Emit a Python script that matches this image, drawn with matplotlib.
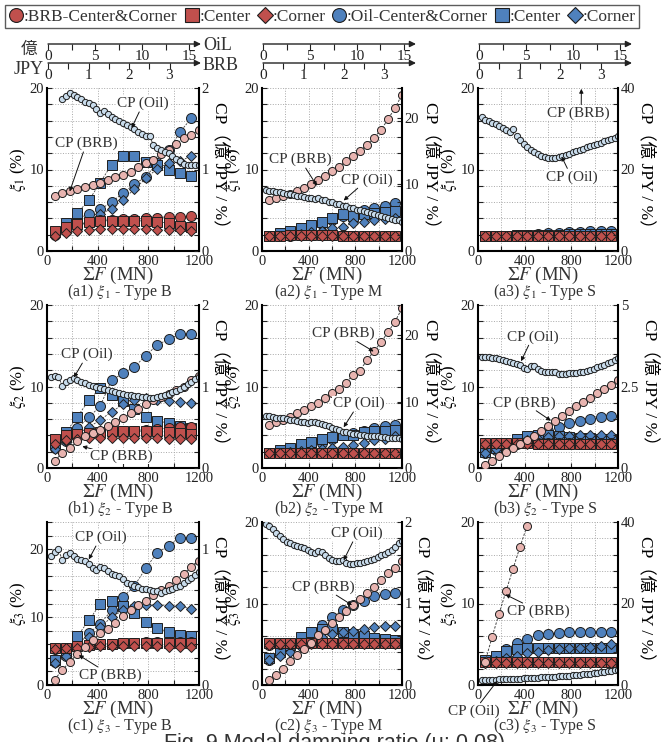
import numpy as np
import matplotlib.pyplot as plt
from matplotlib.lines import Line2D

plt.rcParams['font.family'] = ['Liberation Serif', 'Noto Sans CJK JP']
plt.rcParams['mathtext.fontset'] = 'stix'
plt.rcParams['text.color'] = '#333333'
plt.rcParams['xtick.color'] = '#222222'
plt.rcParams['ytick.color'] = '#222222'

nan = np.nan

# abscissas (sigma F, MN)
F_XI = [60, 150, 240, 330, 420, 510, 600, 690, 780, 870, 960, 1050, 1140]
F_CP_BRB = [60, 120, 180, 240, 300, 360, 420, 480, 540, 600,
            660, 720, 780, 840, 900, 960, 1020, 1080, 1140, 1200]
F_CP_OIL = [30, 60, 90, 120, 150, 180, 210, 240, 270, 300,
            330, 360, 390, 420, 450, 480, 510, 540, 570, 600,
            630, 660, 690, 720, 750, 780, 810, 840, 870, 900,
            930, 960, 990, 1020, 1050, 1080, 1110, 1140, 1170, 1200]

# ---- (a1) xi1 type B
A1_BRB_CC = [2.0, 2.5, 3.2, 3.6, 3.8, 3.8, 3.9, 3.9, 4.0, 4.1, 4.2, 4.2, 4.3]
A1_BRB_C = [2.4, 3.0, 3.3, 3.5, 3.7, 3.7, 3.7, 3.7, 3.7, 3.6, 3.4, 3.1, 2.9]
A1_BRB_K = [1.8, 2.2, 2.5, 2.6, 2.7, 2.7, 2.7, 2.7, 2.7, 2.6, 2.6, 2.6, 2.5]
A1_OIL_CC = [2.2, 3.0, 4.0, 4.5, 5.1, 6.0, 7.1, 8.2, 9.1, 10.8, 12.4, 14.6, 16.3]
A1_OIL_C = [2.3, 3.4, 4.7, 6.2, 8.4, 10.6, 11.7, 11.7, 10.9, 10.6, 10.0, 9.6, 9.2]
A1_OIL_K = [2.0, 2.5, 3.0, 3.6, 4.5, 5.2, 6.3, 7.6, 8.9, 10.1, 10.8, 11.0, 11.7]
A1_CP_BRB = [0.67, 0.71, 0.74, 0.76, 0.79, 0.81, 0.84, 0.87, 0.91, 0.93,
             0.97, 1.03, 1.08, 1.12, 1.19, 1.24, 1.31, 1.39, 1.42, 1.49]
A1_CP_OIL = [nan, nan, nan, 1.86, 1.90, 1.94, 1.92, 1.89, 1.86, 1.83,
             1.81, 1.79, 1.74, 1.69, 1.72, 1.68, 1.65, 1.62, 1.59, 1.57,
             1.54, 1.52, 1.50, 1.46, 1.43, 1.41, 1.41, 1.30, 1.26, 1.24,
             1.22, 1.20, 1.17, 1.13, 1.10, 1.07, 1.05, 1.05, 1.06, 1.06]

# ---- (a2) xi1 type M
A2_BRB_CC = [1.9, 1.9, 1.9, 2.0, 2.0, 2.0, 2.0, 2.0, 1.9, 1.9, 1.9, 1.9, 1.9]
A2_BRB_C = [1.9, 1.9, 2.0, 2.0, 2.0, 2.0, 2.0, 1.9, 1.9, 1.9, 1.9, 1.9, 1.9]
A2_BRB_K = [1.8, 1.8, 1.9, 1.9, 1.9, 1.9, 1.9, 1.9, 1.9, 1.9, 1.8, 1.8, 1.8]
A2_OIL_CC = [1.9, 2.1, 2.3, 2.6, 2.9, 3.3, 3.8, 4.3, 4.7, 5.0, 5.3, 5.5, 5.9]
A2_OIL_C = [1.9, 2.2, 2.5, 2.8, 3.2, 3.6, 4.1, 4.5, 4.3, 4.5, 4.7, 4.8, 4.9]
A2_OIL_K = [1.8, 1.9, 2.0, 2.1, 2.3, 2.5, 2.8, 3.0, 3.4, 3.6, 3.8, 3.9, 4.1]
A2_CP_BRB = [7.6, 7.9, 8.2, 8.6, 9.0, 9.5, 10.0, 10.6, 11.3, 12.0,
             12.7, 13.5, 14.3, 15.1, 16.0, 17.0, 18.2, 19.8, 21.5, 23.5]
A2_CP_OIL = [9.1, 9.0, 9.0, 8.9, 8.8, 8.7, 8.6, 8.6, 8.4, 8.3,
             8.3, 8.1, 8.0, 7.9, 7.8, 7.9, 7.7, 7.6, 7.4, 7.3,
             7.1, 7.0, 6.8, 6.7, 6.5, 6.4, 6.2, 6.1, 6.0, 5.8,
             5.7, 5.5, 5.4, 5.2, 5.1, 5.0, 4.8, 4.7, 4.6, 4.4]

# ---- (a3) xi1 type S
A3_BRB_CC = [1.8, 1.8, 1.8, 1.9, 1.9, 1.9, 1.9, 1.9, 1.9, 1.9, 1.9, 1.9, 1.9]
A3_BRB_C = [1.8, 1.8, 1.8, 1.8, 1.8, 1.8, 1.8, 1.8, 1.8, 1.8, 1.8, 1.8, 1.8]
A3_BRB_K = [1.8, 1.8, 1.8, 1.8, 1.8, 1.8, 1.8, 1.8, 1.8, 1.8, 1.8, 1.8, 1.8]
A3_OIL_CC = [1.9, 1.9, 1.9, 2.0, 2.0, 2.1, 2.2, 2.2, 2.3, 2.3, 2.4, 2.4, 2.4]
A3_OIL_C = [1.9, 1.9, 1.9, 2.0, 2.0, 2.0, 2.0, 2.0, 2.1, 2.1, 2.1, 2.1, 2.1]
A3_OIL_K = [1.8, 1.8, 1.8, 1.9, 1.9, 1.9, 1.9, 2.0, 2.0, 2.0, 2.0, 2.0, 2.0]
A3_CP_BRB = []  # off scale (> 40)
A3_CP_OIL = [32.8, 32.2, 31.8, 31.5, 31.1, 30.6, 30.2, 29.6, 29.2, 30.0,
             28.1, 27.3, 26.3, 25.5, 24.8, 24.2, 23.7, 23.3, 23.0, 22.8,
             22.8, 22.9, 23.1, 23.3, 23.6, 23.9, 24.2, 24.5, 24.8, 25.1,
             25.4, 25.7, 26.0, 26.3, 26.6, 26.9, 27.2, 27.5, 27.8, 28.2]

# ---- (b1) xi2 type B
B1_BRB_CC = [3.3, 3.8, 4.0, 4.2, 4.4, 4.5, 4.6, 4.6, 4.7, 4.8, 4.9, 5.0, 5.0]
B1_BRB_C = [3.5, 4.0, 4.2, 4.3, 4.4, 4.5, 4.5, 4.5, 4.5, 4.5, 4.4, 4.3, 4.2]
B1_BRB_K = [3.0, 3.4, 3.6, 3.7, 3.7, 3.7, 3.7, 3.7, 3.7, 3.7, 3.6, 3.6, 3.6]
B1_OIL_CC = [2.5, 3.3, 4.9, 6.2, 7.6, 10.8, 11.6, 12.4, 13.8, 15.1, 15.8, 16.4, 16.4]
B1_OIL_C = [3.0, 4.4, 6.3, 8.3, 9.8, 8.9, 8.2, 7.3, 6.2, 5.8, 5.5, 5.2, 4.9]
B1_OIL_K = [2.3, 3.3, 4.2, 5.0, 5.9, 6.9, 7.8, 8.4, 8.6, 8.4, 8.2, 8.1, 8.0]
B1_CP_BRB = [0.09, 0.18, 0.25, 0.33, 0.39, 0.43, 0.47, 0.51, 0.56, 0.61,
             0.67, 0.72, 0.78, 0.83, 0.87, 0.91, 0.96, 1.00, 1.08, 1.13]
B1_CP_OIL = [1.12, 1.13, 1.12, 1.01, 1.05, 1.08, 1.10, 1.08, 1.06, 1.04,
             1.02, 1.01, 0.99, 0.98, 0.97, 0.96, 0.95, 0.93, 0.92, 0.91,
             0.90, 0.89, 0.88, 0.88, 0.87, 0.87, 0.86, 0.86, 0.87, 0.88,
             0.89, 0.91, 0.93, 0.95, 0.97, 1.00, 1.03, 1.06, 1.09, 1.12]

# ---- (b2) xi2 type M
B2_BRB_CC = [1.8, 1.8, 1.9, 1.9, 1.9, 1.9, 1.9, 1.9, 1.9, 1.9, 1.9, 1.9, 1.9]
B2_BRB_C = [1.8, 1.8, 1.8, 1.8, 1.8, 1.8, 1.8, 1.8, 1.8, 1.8, 1.8, 1.8, 1.8]
B2_BRB_K = [1.8, 1.8, 1.8, 1.8, 1.8, 1.8, 1.8, 1.8, 1.8, 1.8, 1.8, 1.8, 1.8]
B2_OIL_CC = [1.9, 2.0, 2.2, 2.5, 2.7, 3.1, 3.6, 4.0, 4.3, 4.6, 4.9, 5.1, 5.3]
B2_OIL_C = [1.8, 2.2, 2.5, 2.9, 3.2, 3.6, 3.8, 4.1, 4.0, 4.4, 4.5, 4.6, 4.7]
B2_OIL_K = [1.8, 1.9, 2.0, 2.1, 2.2, 2.3, 2.4, 2.6, 2.8, 3.1, 3.4, 3.6, 3.9]
B2_CP_BRB = [6.5, 6.9, 7.2, 7.7, 8.3, 8.7, 9.3, 9.8, 10.6, 11.3,
             11.9, 12.9, 14.0, 14.7, 16.3, 17.6, 19.0, 20.5, 22.1, 24.1]
B2_CP_OIL = [7.8, 7.8, 7.7, 7.6, 7.5, 7.5, 7.4, 7.3, 7.2, 7.1,
             7.0, 6.9, 6.8, 6.9, 7.0, 6.8, 6.6, 6.5, 6.3, 6.1,
             5.9, 5.7, 5.5, 5.4, 5.3, 5.2, 5.1, 5.0, 5.0, 4.9,
             4.9, 4.8, 4.8, 4.7, 4.7, 4.6, 4.6, 4.5, 4.5, 4.4]

# ---- (b3) xi2 type S
B3_BRB_CC = [3.0, 3.1, 3.1, 3.1, 3.1, 3.1, 3.1, 3.1, 3.1, 3.1, 3.1, 3.1, 3.1]
B3_BRB_C = [3.1, 3.1, 3.1, 3.1, 3.1, 3.0, 3.0, 3.0, 3.0, 3.0, 3.0, 3.0, 3.0]
B3_BRB_K = [3.0, 3.0, 3.0, 3.0, 3.0, 3.0, 3.0, 3.0, 3.0, 3.0, 3.0, 3.0, 3.0]
B3_OIL_CC = [1.9, 2.2, 2.6, 2.9, 3.4, 4.0, 4.5, 5.0, 5.5, 5.8, 6.0, 6.2, 6.4]
B3_OIL_C = [2.0, 2.5, 3.0, 3.5, 3.9, 4.0, 4.0, 3.9, 3.8, 3.7, 3.7, 3.6, 3.6]
B3_OIL_K = [1.9, 2.3, 2.7, 3.1, 3.4, 3.6, 3.8, 3.9, 3.9, 4.0, 4.0, 4.0, 4.0]
B3_CP_BRB = [0.09, 0.22, 0.38, 0.48, 0.60, 0.73, 0.86, 0.99, 1.14, 1.29,
             1.44, 1.60, 1.75, 1.90, 2.02, 2.15, 2.31, 2.41, 2.56, 2.71]
B3_CP_OIL = [3.42, 3.41, 3.39, 3.38, 3.36, 3.33, 3.30, 3.27, 3.24, 3.21,
             3.18, 3.15, 3.08, 3.05, 3.12, 3.13, 3.05, 2.98, 2.96, 2.95,
             2.95, 2.93, 2.88, 2.87, 2.88, 2.90, 2.91, 2.92, 2.94, 2.96,
             2.99, 3.02, 3.05, 3.09, 3.13, 3.17, 3.21, 3.26, 3.31, 3.38]

# ---- (c1) xi3 type B
C1_BRB_CC = [5.3, 5.5, 5.7, 5.9, 6.0, 6.1, 6.1, 6.2, 6.3, 6.3, 6.4, 6.4, 6.4]
C1_BRB_C = [5.4, 5.5, 5.8, 5.9, 6.0, 6.1, 6.2, 6.2, 6.2, 6.2, 6.2, 6.2, 6.2]
C1_BRB_K = [5.3, 5.4, 5.5, 5.6, 5.7, 5.7, 5.7, 5.7, 5.7, 5.7, 5.6, 5.6, 5.6]
C1_OIL_CC = [3.4, 4.2, 5.8, 7.6, 9.0, 11.0, 12.9, 14.6, 17.2, 19.5, 20.5, 21.7, 21.7]
C1_OIL_C = [3.7, 4.8, 7.2, 9.5, 11.9, 12.3, 11.7, 10.6, 9.3, 8.4, 7.8, 7.4, 7.2]
C1_OIL_K = [3.2, 4.2, 5.5, 7.0, 8.5, 10.0, 11.0, 11.6, 11.8, 11.8, 11.7, 11.6, 11.2]
C1_CP_BRB = [0.04, 0.11, 0.17, 0.23, 0.28, 0.33, 0.38, 0.41, 0.46, 0.51,
             0.55, 0.59, 0.62, 0.66, 0.70, 0.73, 0.77, 0.82, 0.87, 0.91]
C1_CP_OIL = [0.95, 0.98, 1.00, 0.92, 0.96, 0.97, 0.95, 0.93, 0.92, 0.91,
             0.89, 0.86, 0.85, 0.87, 0.86, 0.84, 0.82, 0.81, 0.80, 0.78,
             0.75, 0.74, 0.73, 0.72, 0.71, 0.71, 0.70, 0.69, 0.69, 0.68,
             0.69, 0.70, 0.71, 0.72, 0.73, 0.75, 0.77, 0.79, 0.81, 0.83]

# ---- (c2) xi3 type M
C2_BRB_CC = [4.9, 5.0, 5.0, 5.1, 5.1, 5.1, 5.1, 5.1, 5.1, 5.1, 5.1, 5.1, 5.1]
C2_BRB_C = [5.1, 5.1, 5.1, 5.1, 5.1, 5.1, 5.1, 5.1, 5.1, 5.1, 5.1, 5.1, 5.1]
C2_BRB_K = [4.9, 5.0, 5.0, 5.0, 5.0, 5.0, 5.0, 5.0, 5.0, 5.0, 5.0, 5.0, 5.0]
C2_OIL_CC = [3.1, 3.8, 4.5, 5.4, 6.5, 7.4, 8.3, 9.2, 9.8, 10.3, 10.9, 11.2, 11.3]
C2_OIL_C = [3.3, 4.1, 4.9, 5.9, 6.5, 6.9, 6.9, 6.5, 6.3, 6.0, 5.8, 5.6, 5.5]
C2_OIL_K = [3.1, 3.5, 4.1, 4.7, 5.3, 5.9, 6.3, 6.5, 6.6, 6.9, 7.1, 7.3, 7.3]
C2_CP_BRB = [0.06, 0.12, 0.20, 0.29, 0.37, 0.44, 0.52, 0.61, 0.67, 0.76,
             0.84, 0.91, 0.98, 1.05, 1.13, 1.20, 1.29, 1.37, 1.44, 1.52]
C2_CP_OIL = [1.98, 1.95, 1.91, 1.87, 1.83, 1.79, 1.76, 1.74, 1.72, 1.71,
             1.69, 1.68, 1.66, 1.63, 1.62, 1.64, 1.63, 1.60, 1.56, 1.53,
             1.52, 1.52, 1.53, 1.50, 1.49, 1.49, 1.50, 1.50, 1.51, 1.52,
             1.53, 1.55, 1.57, 1.59, 1.61, 1.63, 1.66, 1.69, 1.74, 1.77]

# ---- (c3) xi3 type S
C3_BRB_CC = [2.8, 2.8, 2.8, 2.8, 2.8, 2.8, 2.8, 2.8, 2.8, 2.8, 2.8, 2.8, 2.8]
C3_BRB_C = [2.8, 2.8, 2.8, 2.8, 2.8, 2.8, 2.8, 2.8, 2.8, 2.8, 2.8, 2.8, 2.8]
C3_BRB_K = [2.7, 2.7, 2.7, 2.7, 2.7, 2.7, 2.7, 2.7, 2.7, 2.7, 2.7, 2.7, 2.7]
C3_OIL_CC = [3.0, 3.6, 4.4, 5.1, 5.7, 6.1, 6.3, 6.4, 6.5, 6.5, 6.5, 6.5, 6.5]
C3_OIL_C = [3.1, 3.6, 4.2, 4.4, 4.5, 4.6, 4.6, 4.6, 4.6, 4.5, 4.5, 4.5, 4.5]
C3_OIL_K = [2.7, 3.0, 3.3, 3.6, 3.9, 4.1, 4.3, 4.4, 4.5, 4.6, 4.7, 4.8, 5.0]
C3_CP_BRB = [5.6, 11.7, 17.5, 23.0, 28.5, 33.9, 39.0, nan, nan, nan,
             nan, nan, nan, nan, nan, nan, nan, nan, nan, nan]
C3_CP_OIL = [1.20, 1.20, 1.25, 1.30, 1.30, 1.35, 1.40, 1.40, 1.45, 1.50,
             1.50, 1.55, 1.60, 1.65, 1.70, 1.75, 1.80, 1.85, 1.90, 1.95,
             2.00, 2.05, 2.10, 2.20, 2.25, 2.30, 2.40, 2.45, 2.55, 2.60,
             2.70, 2.80, 2.90, 3.00, 3.10, 3.20, 3.35, 3.45, 3.60, 3.80]

# cost scale axes on top
OIL_TICKS = [0, 5, 10, 15]
OIL_MINOR = [2.5, 7.5, 12.5]
BRB_TICKS = [0, 1, 2, 3]
BRB_MINOR = [0.5, 1.5, 2.5]

X_TICKS = [0, 400, 800, 1200]
X_MINOR = [200, 600, 1000]

LEGEND_LABELS = [':BRB-Center&Corner', ':Center', ':Corner',
                 ':Oil-Center&Corner', ':Center', ':Corner']

RED = '#C0504D'
BLUE = '#4F81BD'
PINK = '#E8B4B0'
LBLUE = '#C9DCEC'
EDGE = '#1e1e1e'

PANELS = [
    dict(tag='a1', xi=1, typ='B', ymax=20, cmax=2.0, cticks=[0, 1, 2], clabels=['0', '1', '2'],
         brb=(A1_BRB_CC, A1_BRB_C, A1_BRB_K), oil=(A1_OIL_CC, A1_OIL_C, A1_OIL_K),
         cp_brb=A1_CP_BRB, cp_oil=A1_CP_OIL,
         notes=[('CP (Oil)', (760, 18.1), (668, 15.1), None),
                ('CP (BRB)', (311, 13.2), (179, 7.3), None)]),
    dict(tag='a2', xi=1, typ='M', ymax=20, cmax=24.5, cticks=[0, 10, 20], clabels=['0', '10', '20'],
         brb=(A2_BRB_CC, A2_BRB_C, A2_BRB_K), oil=(A2_OIL_CC, A2_OIL_C, A2_OIL_K),
         cp_brb=A2_CP_BRB, cp_oil=A2_CP_OIL,
         notes=[('CP (BRB)', (329, 11.2), (471, 8.0), None),
                ('CP (Oil)', (900, 8.7), (700, 6.2), None)]),
    dict(tag='a3', xi=1, typ='S', ymax=20, cmax=40, cticks=[0, 20, 40], clabels=['0', '20', '40'],
         brb=(A3_BRB_CC, A3_BRB_C, A3_BRB_K), oil=(A3_OIL_CC, A3_OIL_C, A3_OIL_K),
         cp_brb=A3_CP_BRB, cp_oil=A3_CP_OIL,
         notes=[('CP (BRB)', (858, 16.9), (886, 19.9), (0.55, 1.0)),
                ('CP (Oil)', (801, 9.1), (716, 11.6), None)]),
    dict(tag='b1', xi=2, typ='B', ymax=20, cmax=2.0, cticks=[0, 1, 2], clabels=['0', '1', '2'],
         brb=(B1_BRB_CC, B1_BRB_C, B1_BRB_K), oil=(B1_OIL_CC, B1_OIL_C, B1_OIL_K),
         cp_brb=B1_CP_BRB, cp_oil=B1_CP_OIL,
         notes=[('CP (Oil)', (318, 13.9), (212, 11.1), None),
                ('CP (BRB)', (584, 1.4), (279, 2.65), None)]),
    dict(tag='b2', xi=2, typ='M', ymax=20, cmax=24.6, cticks=[0, 10, 20], clabels=['0', '10', '20'],
         brb=(B2_BRB_CC, B2_BRB_C, B2_BRB_K), oil=(B2_OIL_CC, B2_OIL_C, B2_OIL_K),
         cp_brb=B2_CP_BRB, cp_oil=B2_CP_OIL,
         notes=[('CP (BRB)', (700, 16.5), (957, 14.3), None),
                ('CP (Oil)', (829, 7.9), (700, 5.0), None)]),
    dict(tag='b3', xi=2, typ='S', ymax=20, cmax=5.0, cticks=[0, 2.5, 5], clabels=['0', '2.5', '5'],
         brb=(B3_BRB_CC, B3_BRB_C, B3_BRB_K), oil=(B3_OIL_CC, B3_OIL_C, B3_OIL_K),
         cp_brb=B3_CP_BRB, cp_oil=B3_CP_OIL,
         notes=[('CP (Oil)', (469, 16.1), (369, 13.1), None),
                ('CP (BRB)', (398, 8.0), (625, 5.8), None)]),
    dict(tag='c1', xi=3, typ='B', ymax=24, cmax=1.2, cticks=[0, 1], clabels=['0', '1'],
         brb=(C1_BRB_CC, C1_BRB_C, C1_BRB_K), oil=(C1_OIL_CC, C1_OIL_C, C1_OIL_K),
         cp_brb=C1_CP_BRB, cp_oil=C1_CP_OIL,
         notes=[('CP (Oil)', (422, 21.7), (330, 18.5), None),
                ('CP (BRB)', (501, 1.5), (251, 4.4), None)]),
    dict(tag='c2', xi=3, typ='M', ymax=20, cmax=2.0, cticks=[0, 1, 2], clabels=['0', '1', '2'],
         brb=(C2_BRB_CC, C2_BRB_C, C2_BRB_K), oil=(C2_OIL_CC, C2_OIL_C, C2_OIL_K),
         cp_brb=C2_CP_BRB, cp_oil=C2_CP_OIL,
         notes=[('CP (Oil)', (814, 18.6), (700, 15.3), None),
                ('CP (BRB)', (529, 12.0), (771, 9.8), None)]),
    dict(tag='c3', xi=3, typ='S', ymax=20, cmax=40, cticks=[0, 20, 40], clabels=['0', '20', '40'],
         brb=(C3_BRB_CC, C3_BRB_C, C3_BRB_K), oil=(C3_OIL_CC, C3_OIL_C, C3_OIL_K),
         cp_brb=C3_CP_BRB, cp_oil=C3_CP_OIL,
         notes=[('CP (BRB)', (519, 9.1), (235, 11.1), None),
                ('CP (Oil)', (-34, -3.2), (165, 0.5), None)]),
]

W, H = 669, 742
fig = plt.figure(figsize=(W / 100, H / 100), dpi=100)

COL_X = [47, 262, 478]
COL_W = [152, 140, 140]
ROW_Y = [88, 305, 522]
ROW_H = 163
DASH = (0, (2.5, 1.5))


def px_axes(left, top, width, height):
    return fig.add_axes([left / W, 1 - (top + height) / H, width / W, height / H])


def fig_text(x, y, s, **kw):
    fig.text(x / W, 1 - y / H, s, **kw)


def series(a, x, y, marker, ms, fc, lw=0.6):
    if len(y) == 0:
        return
    a.plot(x, y, ls=DASH, lw=lw, color='#444444', marker=marker, ms=ms,
           mfc=fc, mec=EDGE, mew=0.7)


for i, p in enumerate(PANELS):
    row, col = divmod(i, 3)
    ax = px_axes(COL_X[col], ROW_Y[row], COL_W[col], ROW_H)
    ax2 = ax.twinx()

    ax.set_xlim(0, 1200)
    ax.set_ylim(0, p['ymax'])
    ax2.set_ylim(0, p['cmax'])

    ax.set_xticks(X_TICKS)
    ax.set_xticks(X_MINOR, minor=True)
    ax.set_yticks([0, 10, 20])
    ax.set_yticks(np.arange(0, p['ymax'] + 0.01, 2), minor=True)
    ax.grid(True, which='both', ls=':', lw=0.7, color='#a8a8a8')
    ax.set_axisbelow(True)

    ax2.set_yticks(p['cticks'])
    ax2.set_yticklabels(p['clabels'])
    nmin = int(p['ymax'] / 2)
    ax2.set_yticks(np.linspace(0, p['cmax'], nmin + 1), minor=True)

    for a in (ax, ax2):
        a.tick_params(which='both', direction='in', length=3.5, width=0.8, labelsize=10.5, pad=2)
        a.spines['top'].set_visible(False)
    ax.tick_params(axis='x', pad=3)
    ax.spines['right'].set_visible(False)
    ax2.spines['left'].set_visible(False)
    ax2.spines['bottom'].set_visible(False)
    ax.spines['left'].set_linewidth(1.5)
    ax.spines['bottom'].set_linewidth(1.5)
    ax2.spines['right'].set_linewidth(1.5)

    for ys, mk, ms in zip(p['oil'], ['o', 's', 'D'], [7.2, 7.6, 5.4]):
        series(ax, F_XI, ys, mk, ms, BLUE)
    for ys, mk, ms in zip(p['brb'], ['o', 's', 'D'], [7.2, 7.6, 5.4]):
        series(ax, F_XI, ys, mk, ms, RED)

    series(ax2, F_CP_BRB, p['cp_brb'], 'o', 5.8, PINK, lw=0.7)
    series(ax2, F_CP_OIL, p['cp_oil'], 'o', 4.5, LBLUE, lw=0.7)

    ax.set_ylabel(r'$\xi_{%d}$ (%%)' % p['xi'], fontsize=12, labelpad=1)
    ax2.set_ylabel('CP\uff08億 JPY / %\uff09', fontsize=12.5, rotation=270,
                   va='bottom', labelpad=2)

    for txt, xy_text, xy_tip, rel in p['notes']:
        arrow = dict(arrowstyle='-|>', lw=0.7, color='#111111', mutation_scale=6,
                     shrinkA=1, shrinkB=0)
        if rel is not None:
            arrow['relpos'] = rel
        ax2.annotate(txt, xy=xy_tip, xycoords=ax.transData, xytext=xy_text,
                     textcoords=ax.transData, ha='center', va='center', fontsize=11,
                     annotation_clip=False,
                     bbox=dict(fc='white', ec='none', pad=0.3), arrowprops=arrow)

    cx = COL_X[col] + COL_W[col] / 2
    bottom = ROW_Y[row] + ROW_H
    fig_text(cx - 5, bottom + 24, r'$\Sigma F$ (MN)', fontsize=13.5, ha='center', va='center')
    fig_text(cx - 3, bottom + 41, r'(%s) $\xi_{%d}$ - Type %s' % (p['tag'], p['xi'], p['typ']),
             fontsize=11.5, ha='center', va='center')


# cost arrow axes on top
def cost_axis(left, top, ticks, minor, px_per_unit):
    length = 153
    a = px_axes(left, top, length, 1)
    a.set_xlim(0, length / px_per_unit)
    a.set_ylim(0, 1)
    for s in a.spines.values():
        s.set_visible(False)
    a.patch.set_visible(False)
    a.set_yticks([])
    a.set_xticks(ticks)
    a.set_xticks(minor, minor=True)
    a.tick_params(axis='x', which='both', direction='out', length=4, width=0.8,
                  labelsize=11, pad=0.5, color='#222222')
    a.annotate('', xy=(1, 0), xytext=(0, 0), xycoords='axes fraction',
               arrowprops=dict(arrowstyle='-|>', lw=1.0, color='#222222',
                               mutation_scale=9, shrinkA=0, shrinkB=0))


for col in range(3):
    x0 = COL_X[col] + 1
    cost_axis(x0, 43, OIL_TICKS, OIL_MINOR, 9.4)
    cost_axis(x0, 62, BRB_TICKS, BRB_MINOR, 40.5)

fig_text(29, 49, '億', fontsize=12, ha='center', va='center', family=['Noto Sans CJK JP'])
fig_text(44, 70, 'JPY', fontsize=13, ha='right', va='center')
fig_text(203, 46, 'OiL', fontsize=13, ha='left', va='center')
fig_text(203, 65, 'BRB', fontsize=13, ha='left', va='center')

# legend
handles = []
for fc in (RED, BLUE):
    for mk, ms in (('o', 10), ('s', 10), ('D', 8)):
        handles.append(Line2D([], [], ls='', marker=mk, ms=ms, mfc=fc, mec=EDGE, mew=0.8))
leg = fig.legend(handles, LEGEND_LABELS, loc='upper left', bbox_to_anchor=(5 / W, 1 - 5 / H),
                 ncol=6, frameon=True, fancybox=False, edgecolor='#333333',
                 handlelength=0.9, handletextpad=0.0, columnspacing=0.35,
                 borderpad=0.2, borderaxespad=0, fontsize=12.5)
leg.get_frame().set_linewidth(1.0)

fig_text(335, 733, 'Fig. 9 Modal damping ratio (\u03bc: 0.08)', fontsize=15.5,
         ha='center', va='top', family=['Liberation Sans'])

fig.savefig('out.png', dpi=100)
